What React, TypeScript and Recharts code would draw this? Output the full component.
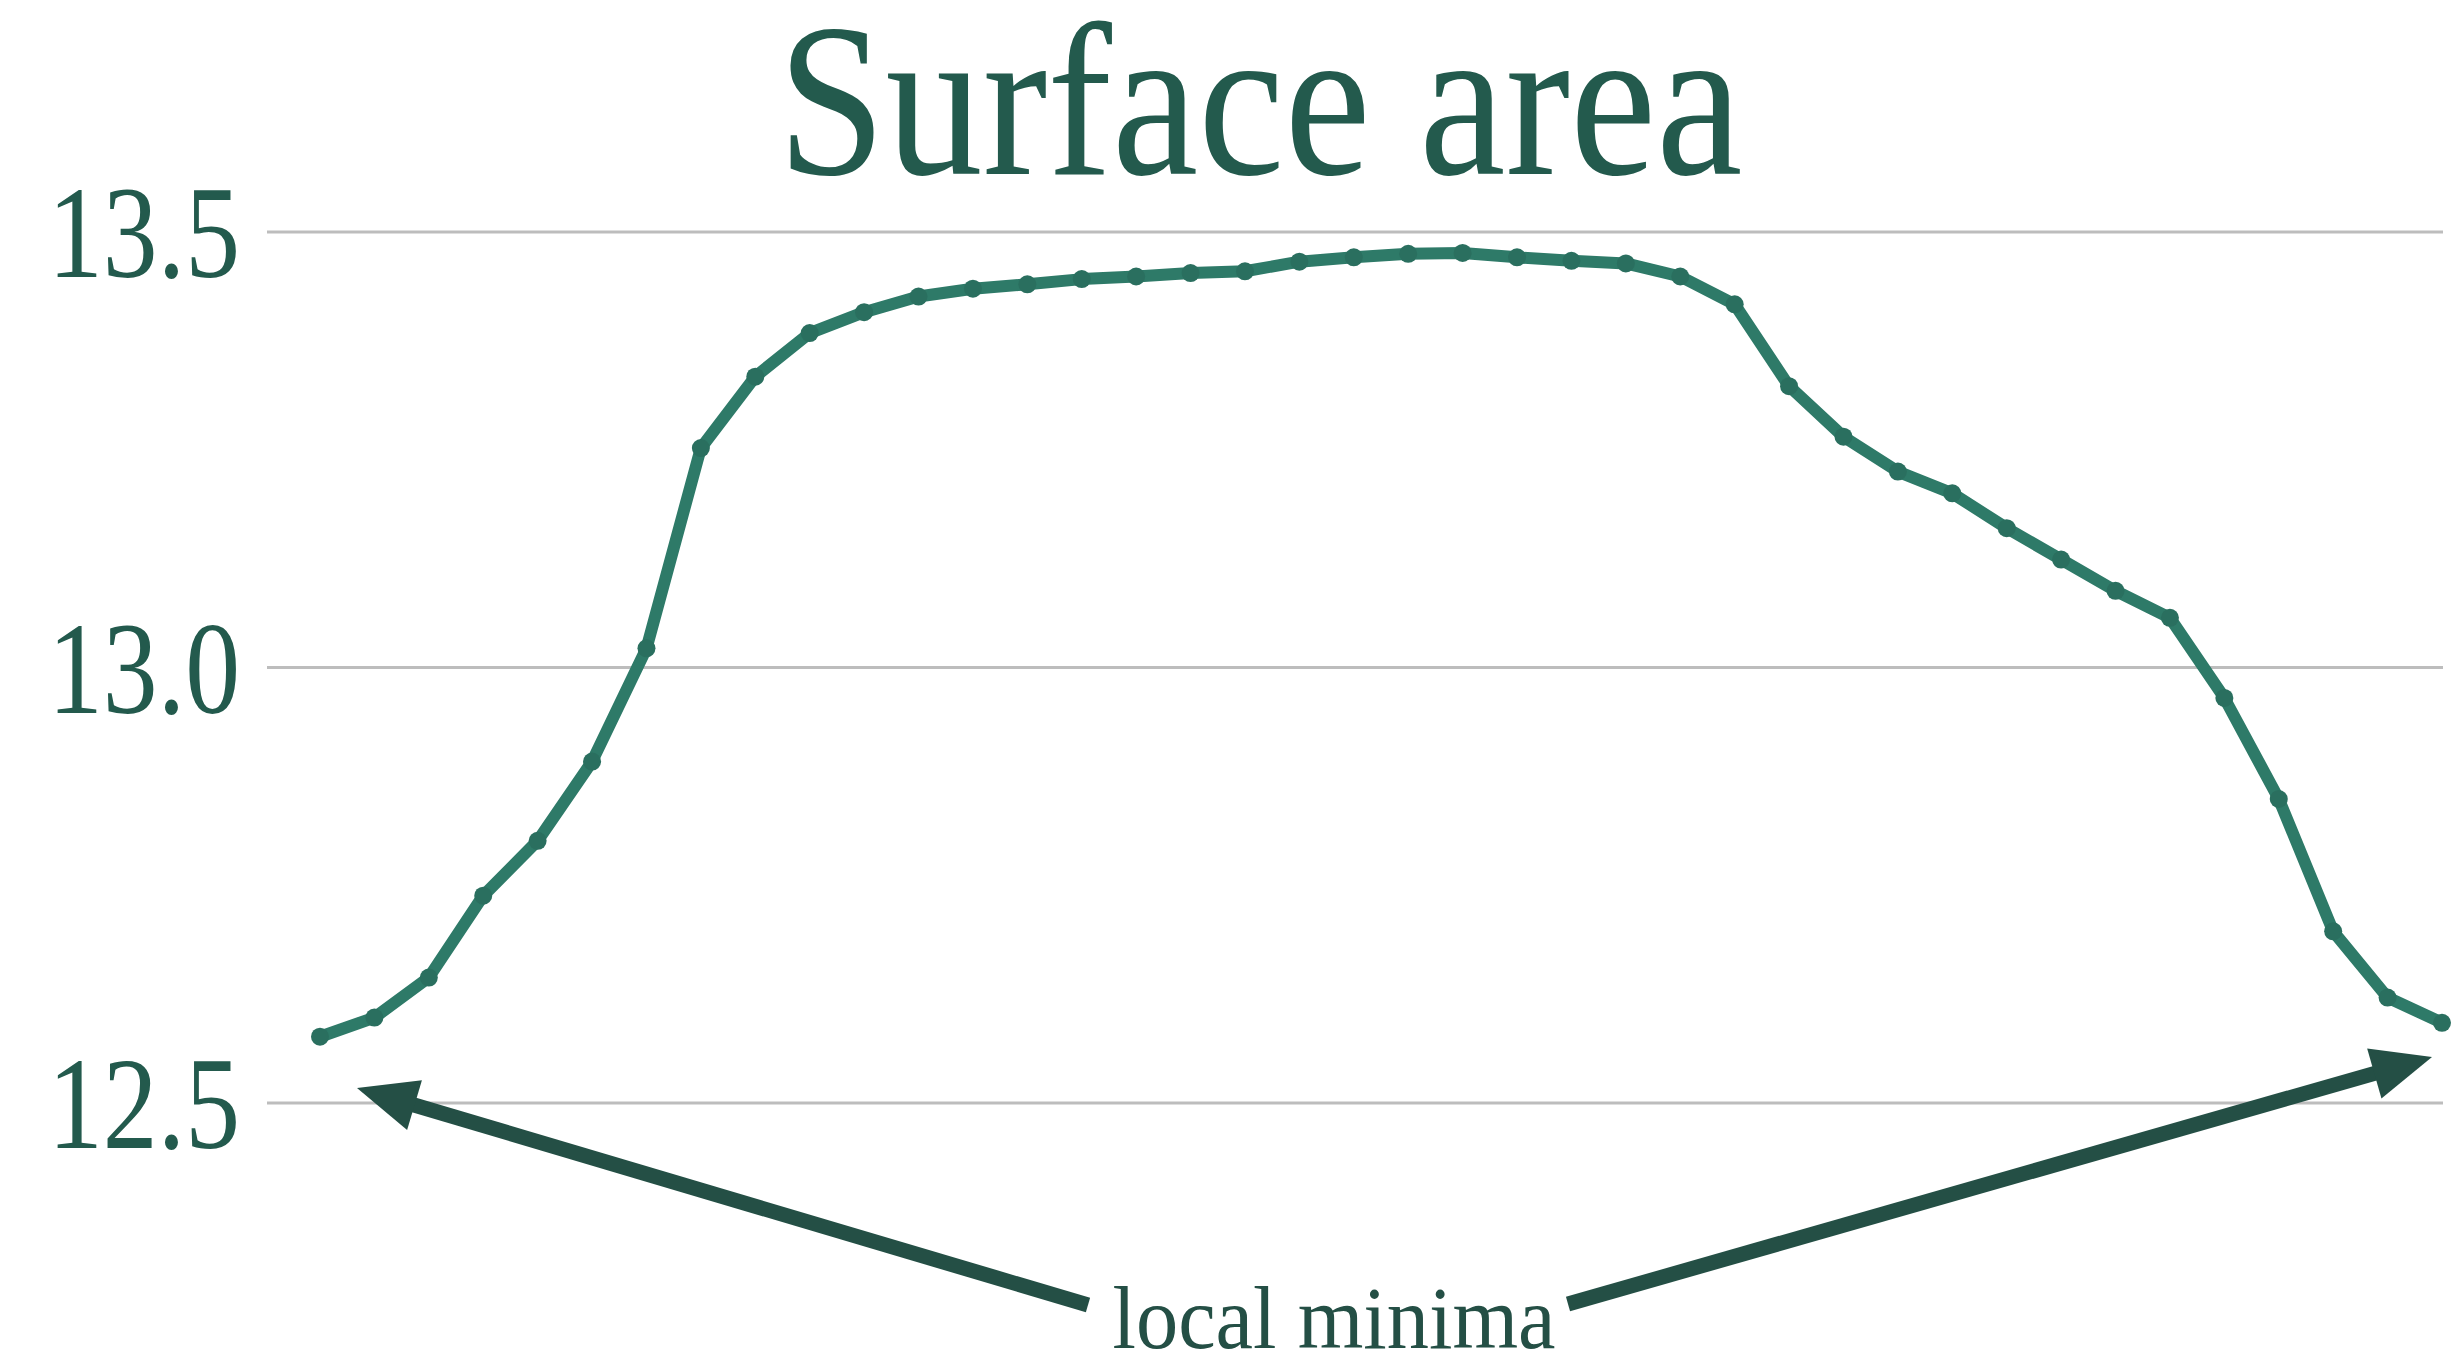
import React from "react";
import { LineChart, Line, XAxis, YAxis, ReferenceLine } from "recharts";

const steps: number[] = Array.from({ length: 40 }, (_, i) => i + 1);
const areaValues: number[] = [
  12.576, 12.598, 12.644, 12.738, 12.801, 12.892, 13.022, 13.252, 13.334, 13.384,
  13.408, 13.426, 13.435, 13.440, 13.446, 13.449, 13.453, 13.455, 13.466, 13.471,
  13.475, 13.476, 13.471, 13.467, 13.464, 13.449, 13.417, 13.323, 13.265, 13.225,
  13.200, 13.160, 13.124, 13.088, 13.057, 12.965, 12.849, 12.697, 12.621, 12.592,
];
const yTicks: number[] = [12.5, 13.0, 13.5];
const titleText = "Surface area";
const annotationText = "local minima";

const data = steps.map((s, i) => ({ step: s, area: areaValues[i] }));

const W = 2464;
const H = 1363;
const DARK = "#235a4d";
const LINE = "#2e7a68";
const ARROW = "#244f45";

const YTick = (props: any) => {
  const { y, payload } = props;
  return (
    <text
      x={240}
      y={y + 45}
      textAnchor="end"
      fontFamily="'Liberation Serif', serif"
      fontSize={132}
      fill={DARK}
      textLength={192}
      lengthAdjust="spacingAndGlyphs"
    >
      {Number(payload.value).toFixed(1)}
    </text>
  );
};

function Arrow({ tail, tip }: { tail: [number, number]; tip: [number, number] }) {
  const dx = tip[0] - tail[0];
  const dy = tip[1] - tail[1];
  const len = Math.sqrt(dx * dx + dy * dy);
  const ux = dx / len;
  const uy = dy / len;
  const headLen = 60;
  const half = 26;
  const bx = tip[0] - headLen * ux;
  const by = tip[1] - headLen * uy;
  const px = -uy;
  const py = ux;
  return (
    <g>
      <line x1={tail[0]} y1={tail[1]} x2={bx + ux * 4} y2={by + uy * 4} stroke={ARROW} strokeWidth={15} />
      <polygon
        points={`${tip[0]},${tip[1]} ${bx + half * px},${by + half * py} ${bx - half * px},${by - half * py}`}
        fill={ARROW}
      />
    </g>
  );
}

export default function App() {
  return (
    <div style={{ position: "absolute", left: 0, top: 0, width: W, height: H, background: "#ffffff" }}>
      <LineChart
        width={W}
        height={H}
        data={data}
        margin={{ top: 145, right: 21, bottom: 173, left: 0 }}
      >
        <XAxis dataKey="step" hide padding={{ left: 53, right: 1 }} />
        <YAxis
          domain={[12.4, 13.6]}
          ticks={yTicks}
          width={267}
          axisLine={false}
          tickLine={false}
          tick={<YTick />}
          allowDataOverflow
        />
        {yTicks.map((t) => (
          <ReferenceLine key={t} y={t} stroke="#bdbdbd" strokeWidth={3} />
        ))}
        <Line
          type="linear"
          dataKey="area"
          stroke={LINE}
          strokeWidth={12}
          strokeLinejoin="round"
          dot={{ r: 9, fill: "#2a6f5f", stroke: "none" }}
          isAnimationActive={false}
        />
      </LineChart>
      <svg
        width={W}
        height={H}
        style={{ position: "absolute", left: 0, top: 0, pointerEvents: "none" }}
      >
        <text
          x={1260}
          y={174}
          textAnchor="middle"
          fontFamily="'Liberation Serif', serif"
          fontSize={219}
          fill={DARK}
          textLength={965}
          lengthAdjust="spacingAndGlyphs"
        >
          {titleText}
        </text>
        <Arrow tail={[1088, 1305]} tip={[357, 1088]} />
        <Arrow tail={[1568, 1304]} tip={[2432, 1057]} />
        <text
          x={1334}
          y={1348}
          textAnchor="middle"
          fontFamily="'Liberation Serif', serif"
          fontSize={88}
          fill={ARROW}
          textLength={443}
          lengthAdjust="spacingAndGlyphs"
        >
          {annotationText}
        </text>
      </svg>
    </div>
  );
}
